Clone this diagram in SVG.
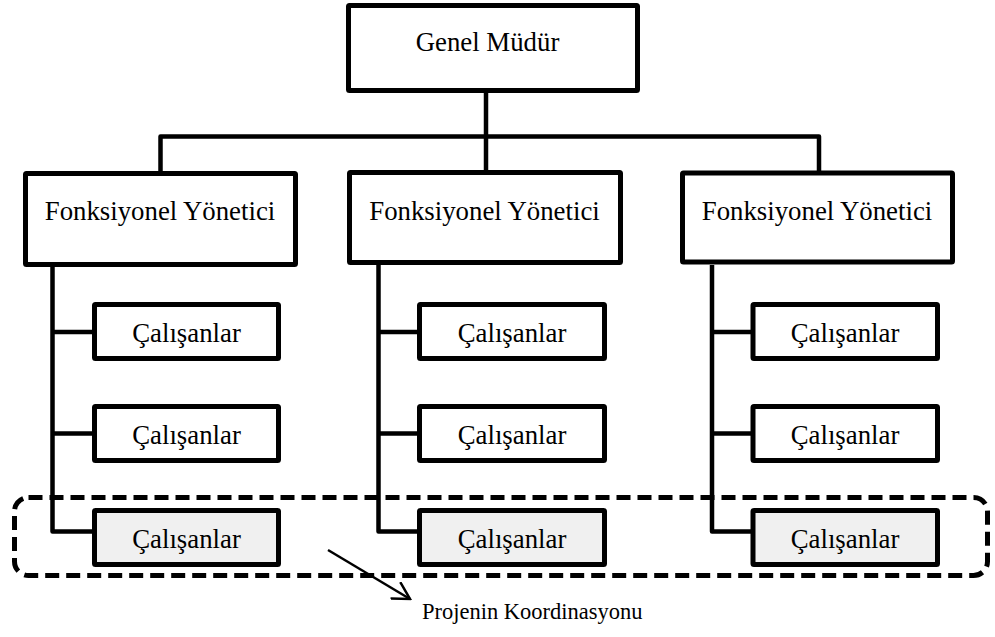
<svg xmlns="http://www.w3.org/2000/svg" width="995" height="637" viewBox="0 0 995 637">
<defs>
<style>
.box{fill:#ffffff;stroke:#000;stroke-width:5;stroke-linejoin:round}
.proj{fill:#f0f0f0}
.ln{fill:none;stroke:#000;stroke-width:4.5;stroke-linejoin:round}
.t{font-family:"Liberation Serif","Times New Roman",serif;font-size:26.8px;fill:#000;text-anchor:middle}
.dash{fill:none;stroke:#000;stroke-width:5;stroke-dasharray:14 7}
.arrow{fill:none;stroke:#000;stroke-width:2.5}
</style>
<marker id="ah" viewBox="0 0 20 20" refX="18" refY="10" markerWidth="20" markerHeight="20" markerUnits="userSpaceOnUse" orient="auto">
<path d="M1,0.5 L18,10 L1,19.5" fill="none" stroke="#000" stroke-width="2.5"/>
</marker>
</defs>
<g id="connectors">
<path class="ln" d="M486,92 V137"/>
<path class="ln" d="M160.5,171 V136.5 H819 V171"/>
<path class="ln" d="M486,136.5 V171"/>
<path class="ln" d="M52.5,265 V531.5 H94"/>
<path class="ln" d="M52.5,332 H94 M52.5,433.5 H94"/>
<path class="ln" d="M378.5,265 V531.5 H419"/>
<path class="ln" d="M378.5,332 H419 M378.5,433.5 H419"/>
<path class="ln" d="M712,265 V531.5 H753"/>
<path class="ln" d="M712,332 H753 M712,433.5 H753"/>
</g>
<g id="genel-mudur">
<rect class="box" x="348.5" y="5.5" width="289" height="85" rx="1"/>
<text class="t" x="487.5" y="51">Genel Müdür</text>
</g>
<g id="fy1">
<rect class="box" x="25.5" y="173.5" width="270" height="91" rx="1"/>
<text class="t" x="160" y="220">Fonksiyonel Yönetici</text>
</g>
<g id="fy2">
<rect class="box" x="349.5" y="172.5" width="271" height="90" rx="1"/>
<text class="t" x="484.5" y="220">Fonksiyonel Yönetici</text>
</g>
<g id="fy3">
<rect class="box" x="682.5" y="173" width="270" height="89" rx="1"/>
<text class="t" x="817" y="220">Fonksiyonel Yönetici</text>
</g>
<g id="c1a"><rect class="box" x="94.5" y="304.5" width="184" height="54" rx="1"/><text class="t" x="186.5" y="341.5">Çalışanlar</text></g>
<g id="c1b"><rect class="box" x="94.5" y="406.5" width="184" height="54" rx="1"/><text class="t" x="186.5" y="443.5">Çalışanlar</text></g>
<g id="c1c"><rect class="box proj" x="94.5" y="510.5" width="184" height="54" rx="1"/><text class="t" x="186.5" y="547.5">Çalışanlar</text></g>
<g id="c2a"><rect class="box" x="419.5" y="304.5" width="185" height="54" rx="1"/><text class="t" x="512" y="341.5">Çalışanlar</text></g>
<g id="c2b"><rect class="box" x="419.5" y="406.5" width="185" height="54" rx="1"/><text class="t" x="512" y="443.5">Çalışanlar</text></g>
<g id="c2c"><rect class="box proj" x="419.5" y="510.5" width="185" height="54" rx="1"/><text class="t" x="512" y="547.5">Çalışanlar</text></g>
<g id="c3a"><rect class="box" x="753" y="304.5" width="184.5" height="54" rx="1"/><text class="t" x="845" y="341.5">Çalışanlar</text></g>
<g id="c3b"><rect class="box" x="753" y="406.5" width="184.5" height="54" rx="1"/><text class="t" x="845" y="443.5">Çalışanlar</text></g>
<g id="c3c"><rect class="box proj" x="753" y="510.5" width="184.5" height="54" rx="1"/><text class="t" x="845" y="547.5">Çalışanlar</text></g>
<g id="proje-koordinasyonu">
<rect class="dash" x="14.5" y="497.5" width="973" height="78" rx="14"/>
<path class="arrow" d="M328,550 L410,599" marker-end="url(#ah)"/>
<text x="422" y="619" style="font-family:'Liberation Serif','Times New Roman',serif;font-size:22.5px;fill:#000">Projenin Koordinasyonu</text>
</g>
</svg>
